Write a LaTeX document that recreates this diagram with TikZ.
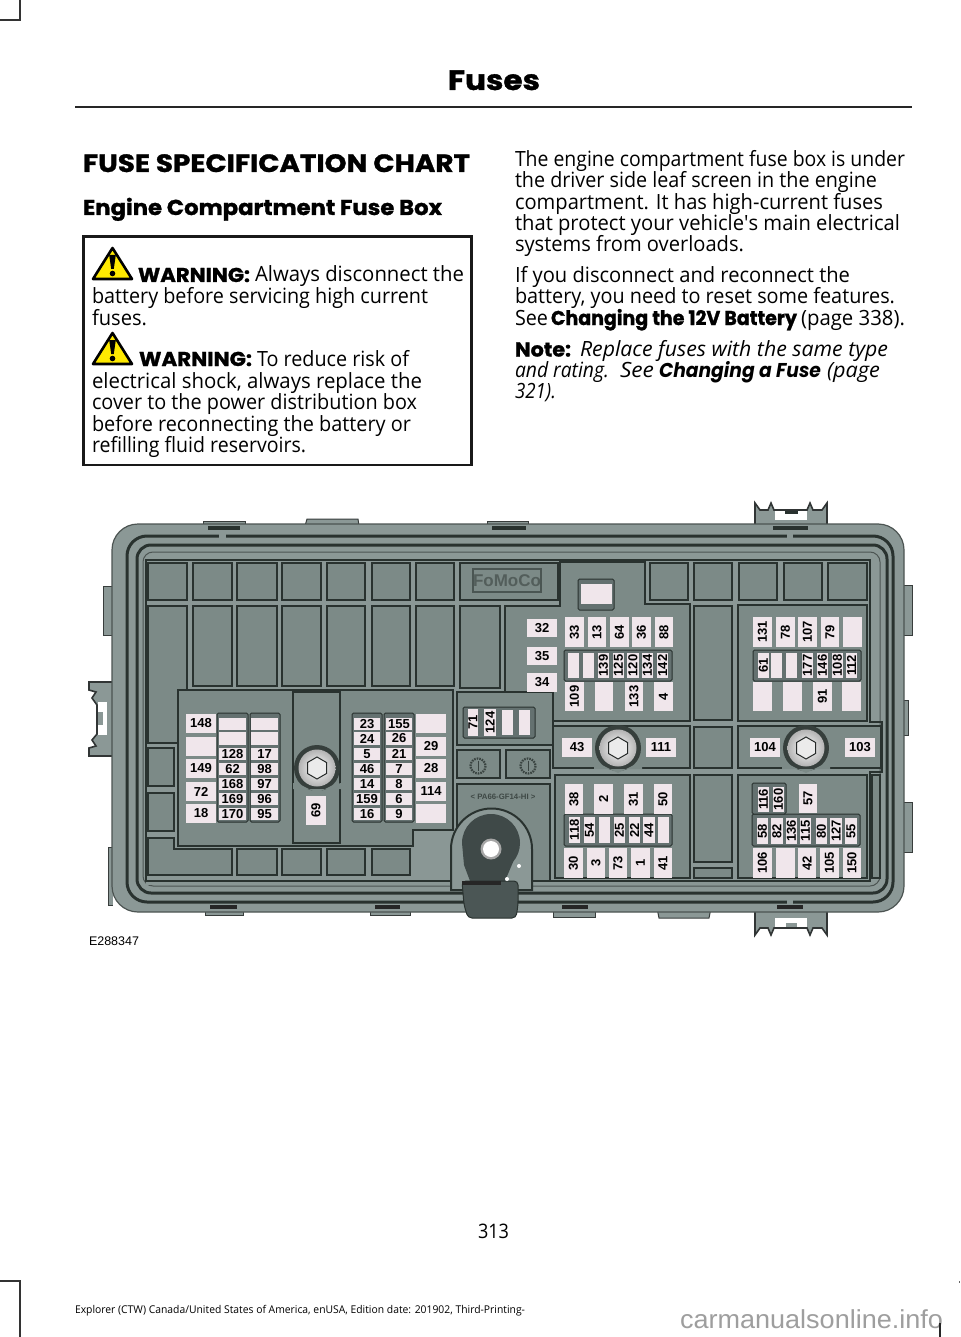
\documentclass[tikz,border=0pt]{standalone}
\usepackage{graphicx}
\usepackage{fontspec}
\setmainfont{Open Sans}
\newfontfamily\hvy{Poppins}[BoldFeatures={FakeBold=1.2}]
\newfontfamily\arl{Liberation Sans}
\definecolor{body}{HTML}{8B9896}
\definecolor{inner}{HTML}{8A9795}
\definecolor{cellc}{HTML}{7C8A87}
\definecolor{darkl}{HTML}{29322F}
\definecolor{platec}{HTML}{647170}
\definecolor{fusec}{HTML}{F0E6EB}
\definecolor{mount}{HTML}{3F4948}
\tikzset{
 fuse/.style={fill=fusec,inner sep=0pt,outer sep=0pt,font=\arl\bfseries\fontsize{13}{13}\selectfont,text=black},
 cellbox/.style={fill=cellc,draw=darkl,line width=1.6pt},
 framel/.style={draw=darkl,line width=3pt,rounded corners=20pt},
 tabbox/.style={fill=body,draw=black!60!body,line width=1pt},
 plate/.style={fill=platec,draw=darkl,line width=1pt,rounded corners=1.5pt},
 para/.style={inner sep=0pt,outer sep=0pt,anchor=base west},
 washer/.style={inner color=white,outer color=black!30!white},
 hexl/.style={draw=black!70!cellc,line width=1pt,fill=white!92!black},
}
\newsavebox\fitbox
\newcounter{nodeid}
% x1 x2 baseline font text : one printed line fitted to its measured width
\newcommand\fitline[5]{%
 \stepcounter{nodeid}%
 \node[para,name=t\thenodeid] at (#1,#3) {\sbox\fitbox{#4#5}\pgfmathsetmacro\fitw{\wd\fitbox}\pgfmathsetmacro\fitr{(#2-#1)/\fitw}\scalebox{\fitr}[1]{\usebox\fitbox}};}
% horizontal and vertical fuses: x1 y1 x2 y2 label
\newcommand\fh[5]{\stepcounter{nodeid}\node[fuse,name=f\thenodeid,minimum width={(#3-#1)*1pt},minimum height={(#4-#2)*1pt}] at ({(#1+#3)/2},{(#2+#4)/2}) {#5};}
\newcommand\fv[5]{\stepcounter{nodeid}\node[fuse,rotate=90,name=f\thenodeid,minimum width={(#4-#2)*1pt},minimum height={(#3-#1)*1pt}] at ({(#1+#3)/2},{(#2+#4)/2}) {#5};}
\newcommand\cl[4]{\draw[cellbox] (#1,#2) rectangle (#3,#4);}
\newcommand\plt[4]{\draw[plate] (#1,#2) rectangle (#3,#4);}
\newcommand\bolt[2]{%
 \fill[darkl!85!cellc] (#1,#2) circle (23);
 \fill[cellc] (#1-24,#2+15) -- (#1-14,#2+18) -- (#1,#2+25) -- (#1+14,#2+18) -- (#1+24,#2+15) -- (#1+24,#2+21) -- (#1-24,#2+21) -- cycle;
 \shade[washer] (#1,#2) circle (18.5);
 \draw[hexl] (#1+9.5,#2-5.5) -- (#1+9.5,#2+5.5) -- (#1,#2+11) -- (#1-9.5,#2+5.5) -- (#1-9.5,#2-5.5) -- (#1,#2-11) -- cycle;}
\newcommand\warn[1]{%
 \draw[fill=yellow!92!orange,draw=black,line width=2.6pt,line join=round] (112.5,#1+2) -- (132,#1+33) -- (93,#1+33) -- cycle;
 \fill[black] (109.2,#1+9) -- (115.8,#1+9) -- (113.8,#1+23) -- (111.2,#1+23) -- cycle;
 \fill[black] (112.5,#1+27.5) circle (2.8);}
\newcommand\rings[2]{%
 \draw[darkl!80!cellc,line width=2.2pt,dash pattern=on 1.6pt off 1pt] (#1,#2) circle (7.5);
 \draw[darkl!80!cellc,line width=.8pt] (#1,#2-5) -- (#1,#2+5);}
\begin{document}
\begin{tikzpicture}[x=1pt,y=-1pt]
\useasboundingbox (0,0) rectangle (960,1337);
\fill[white] (0,0) rectangle (960,1337);
% crop marks
\draw[black!80,line width=1.3pt] (0,20) -- (20,20) -- (20,0);
\draw[black!80,line width=1.3pt] (0,1281) -- (20,1281) -- (20,1337);
% header
\fitline{448}{540}{90}{\hvy\bfseries\fontsize{28}{28}\selectfont}{Fuses}
\draw[black!85,line width=1.6pt] (75,107) -- (912,107);
\fitline{83}{470}{172}{\hvy\bfseries\fontsize{25}{25}\selectfont}{FUSE SPECIFICATION CHART}
\fitline{83}{442}{215}{\hvy\bfseries\fontsize{21.5}{21.5}\selectfont}{Engine Compartment Fuse Box}
% warning box
\draw[black!90,line width=2.6pt] (83.5,236.5) rectangle (471.5,465);
\newcommand\bd{\fontsize{21}{21}\selectfont}
\newcommand\bdb{\hvy\bfseries\fontsize{20}{20}\selectfont}
\newcommand\bdi{\itshape\fontsize{21}{21}\selectfont}
\warn{246}
\fitline{138}{250}{282}{\bdb}{WARNING:}
\fitline{255}{464}{282}{\bd}{Always disconnect the}
\fitline{92}{428}{303}{\bd}{battery before servicing high current}
\fitline{92}{147}{325}{\bd}{fuses.}
\warn{331}
\fitline{139}{252}{366}{\bdb}{WARNING:}
\fitline{257}{409}{366}{\bd}{To reduce risk of}
\fitline{92}{422}{388}{\bd}{electrical shock, always replace the}
\fitline{92}{417}{409}{\bd}{cover to the power distribution box}
\fitline{92}{411}{431}{\bd}{before reconnecting the battery or}
\fitline{92}{306}{452}{\bd}{refilling fluid reservoirs.}
% right column
\fitline{515}{905}{167}{\bd}{The engine compartment fuse box is under}
\fitline{515}{877}{188}{\bd}{the driver side leaf screen in the engine}
\fitline{515}{883}{209.5}{\bd}{compartment. It has high-current fuses}
\fitline{515}{900}{231}{\bd}{that protect your vehicle\textquotesingle s main electrical}
\fitline{515}{744}{252}{\bd}{systems from overloads.}
\fitline{515}{850}{283}{\bd}{If you disconnect and reconnect the}
\fitline{515}{895}{304}{\bd}{battery, you need to reset some features.}
\fitline{515}{548}{325}{\bd}{See}
\fitline{551}{797}{325}{\bdb}{Changing the 12V Battery}
\fitline{801}{905}{325}{\bd}{(page 338).}
\fitline{515}{571}{356.5}{\bdb}{Note:}
\fitline{580}{888}{356.5}{\bdi}{Replace fuses with the same type}
\fitline{515}{609}{377.5}{\bdi}{and rating.}
\fitline{620}{654}{377.5}{\bdi}{See}
\fitline{659}{821}{377.5}{\hvy\bfseries\itshape\fontsize{20}{20}\selectfont}{Changing a Fuse}
\fitline{827}{880}{377.5}{\bdi}{(page}
\fitline{515}{556}{398.5}{\bdi}{321).}
% ---- fuse box: tabs and clips
\draw[tabbox] (203,531) -- (203,521) -- (245,521) -- (245,531);
\draw[tabbox] (305,526) -- (307,519) -- (358,519) -- (359,526);
\draw[tabbox] (487,531) -- (487,521) -- (528,521) -- (528,531);
\draw[tabbox] (205,905) -- (205,915) -- (243,915) -- (243,905);
\draw[tabbox] (370,905) -- (370,915) -- (410,915) -- (410,905);
\draw[tabbox] (553,905) -- (553,917) -- (595,917) -- (595,905);
\draw[tabbox] (657,908) -- (659,918) -- (709,918) -- (711,908);
\draw[tabbox] (112,586) -- (103,586) -- (103,635) -- (112,635);
\draw[tabbox] (113,847) -- (108,847) -- (108,905) -- (113,905);
\draw[tabbox] (903,585) -- (912,585) -- (912,635) -- (903,635);
\draw[tabbox] (903,802) -- (912,802) -- (912,852) -- (903,852);
\draw[tabbox] (900,700) -- (908,700) -- (908,735) -- (900,735);
% top clip
\draw[fill=body,draw=black!65!body,line width=1.6pt] (755,526) -- (755,503) -- (760,510) -- (768,510) -- (771,503) -- (774,510) -- (807,510) -- (810,503) -- (813,510) -- (822,510) -- (827,503) -- (827,526) -- cycle;
\fill[white] (775,511) rectangle (807,520);
\fill[darkl] (785,511) rectangle (798,514);
% bottom clip
\draw[fill=body,draw=black!65!body,line width=1.6pt] (755,910) -- (755,935) -- (760,928) -- (768,928) -- (771,935) -- (774,928) -- (807,928) -- (810,935) -- (813,928) -- (822,928) -- (827,935) -- (827,910) -- cycle;
\fill[white] (775,918) rectangle (807,927);
\fill[body] (786,923) rectangle (797,927);
% left clip
\draw[fill=body,draw=black!65!body,line width=1.6pt] (114,682) -- (89,682) -- (89,690) -- (96,692) -- (92,698) -- (97,705) -- (97,734) -- (92,740) -- (96,746) -- (89,748) -- (89,756) -- (114,756) -- cycle;
\fill[white] (98,702) rectangle (107,735);
\fill[body] (98,712) rectangle (103,725);
\draw[fill=darkl!80!cellc,draw=darkl] (112,699) rectangle (118,737);
% body and frames
\draw[fill=body,draw=black!45!body,line width=1.2pt,rounded corners=26pt] (112,524) rectangle (904,912);
\draw[framel] (127,536) rectangle (893,902);
\draw[framel,rounded corners=14pt] (137,545) rectangle (887,893);
\draw[draw=black!45!body,line width=1pt,rounded corners=10pt] (143,552) rectangle (880,886);
% slots on the rim
\fill[body] (219,533) rectangle (226,539);
\fill[body] (787,533) rectangle (793,539);
\fill[body] (787,899) rectangle (793,905);
\foreach \a/\b in {208/240,492/526,773/808} {\fill[darkl] (\a,526) rectangle (\b,530);}
\foreach \a/\b in {210/237,375/400,562/588,777/803} {\fill[black!85] (\a,905) rectangle (\b,909);}
\fill[inner] (146,560) rectangle (870,885);
\draw[darkl,line width=2pt] (146,560) -- (870,560) -- (870,722) -- (882,722) -- (882,772) -- (870,772) -- (870,881) -- (146,881) -- cycle;
% cells, top row and second row
\foreach \a/\b in {148/187,193/232,237/277,282/321,327/365,372/410,416/454,460/558,650/688,694/732,739/777,784/822,828/867} {\cl{\a}{563}{\b}{600}}
\foreach \a/\b in {193/232,237/277,282/321,327/365,372/410,416/454} {\cl{\a}{606}{\b}{686}}
\cl{460}{606}{500}{688}
\cl{148}{606}{187}{743}
\cl{148}{748}{174}{786}
\cl{148}{793}{174}{831}
\draw[cellbox] (148,838) -- (174,838) -- (174,849) -- (232,849) -- (232,875) -- (148,875) -- cycle;
\foreach \a/\b in {237/277,282/321,327/365,372/410} {\cl{\a}{849}{\b}{875}}
% FoMoCo logo
\draw[darkl!60!cellc,line width=1.2pt] (473,569) rectangle (541,592);
\node[inner sep=0pt,text=darkl!50!cellc,font=\arl\bfseries\fontsize{17}{17}\selectfont] (logo) at (507,581) {FoMoCo};
% panels
\draw[cellbox] (178,690) -- (453,690) -- (453,830) -- (413,830) -- (413,846) -- (178,846) -- cycle;
\cl{293}{692}{340}{843}
\cl{457}{692}{553}{745}
\cl{457}{750}{500}{778}
\cl{506}{750}{550}{778}
\cl{457}{784}{550}{881}
\draw[cellbox] (505,606) -- (560,606) -- (560,562) -- (645,562) -- (645,604) -- (690,604) -- (690,721) -- (553,721) -- (553,692) -- (505,692) -- cycle;
\cl{553}{726}{690}{768}
\cl{555}{775}{690}{878}
\cl{694}{606}{732}{720}
\cl{694}{727}{732}{768}
\cl{694}{775}{732}{862}
\cl{694}{868}{732}{878}
\cl{738}{605}{867}{721}
\cl{738}{726}{881}{768}
\cl{738}{775}{867}{878}
\cl{872}{775}{880}{878}
% symbols and moulded text
\rings{478}{766}
\rings{528}{766}
\node[inner sep=0pt,text=darkl!75!cellc,font=\arl\bfseries\fontsize{7.8}{7.8}\selectfont] (mat) at (503,797) {< PA66-GF14-HI >};
% black mount
\draw[fill=body,draw=darkl,line width=2pt] (451,890) -- (451,849) arc[start angle=180,end angle=360,radius=40.5] -- (532,890) -- cycle;
\fill[mount] (462,843) arc[start angle=180,end angle=400,radius=29] -- (505,881) -- (470,881) -- (464,865) -- cycle;
\draw[fill=mount!80!cellc,draw=darkl,line width=1pt,rounded corners=4pt] (462,881) -- (518,881) -- (518,905) -- (516,918) -- (468,918) -- (464,905) -- cycle;
\fill[black!85] (462,881) rectangle (501,885);
\fill[black!35!white] (491,849) circle (10.5);
\fill[white] (491,849) circle (8);
\fill[white] (519,866) circle (2);
\fill[white] (507,879) circle (2);
% bolts
\bolt{317}{768}
\bolt{618}{748}
\bolt{806}{748}
% fuse plates
\plt{217}{713}{248}{822}
\plt{250}{713}{280}{822}
\plt{352}{713}{382}{822}
\plt{384}{713}{414}{822}
\plt{463}{707}{535}{738}
\plt{564}{650}{672}{681}
\plt{753}{650}{861}{681}
\plt{564}{814}{672}{846}
\plt{752}{814}{860}{846}
\plt{752}{783}{786}{814}
\plt{578}{579}{614}{610}
% group 1
\fh{186}{714}{216}{733}{148}
\fh{186}{737}{216}{756}{}
\fh{186}{759}{216}{778}{149}
\fh{186}{782}{216}{801}{72}
\fh{186}{804}{216}{823}{18}
\fh{219}{718}{246}{730}{}
\fh{219}{732}{246}{745}{}
\fh{219}{748}{246}{760}{128}
\fh{219}{763}{246}{775}{62}
\fh{219}{778}{246}{790}{168}
\fh{219}{793}{246}{805}{169}
\fh{219}{808}{246}{820}{170}
\fh{251}{718}{278}{730}{}
\fh{251}{732}{278}{745}{}
\fh{251}{748}{278}{760}{17}
\fh{251}{763}{278}{775}{98}
\fh{251}{778}{278}{790}{97}
\fh{251}{793}{278}{805}{96}
\fh{251}{808}{278}{820}{95}
\fv{306}{796}{326}{825}{69}
% group 2
\fh{354}{718}{380}{730}{23}
\fh{354}{732}{380}{745}{24}
\fh{354}{748}{380}{760}{5}
\fh{354}{763}{380}{775}{46}
\fh{354}{778}{380}{790}{14}
\fh{354}{793}{380}{805}{159}
\fh{354}{808}{380}{820}{16}
\fh{386}{718}{412}{730}{155}
\fh{386}{732}{412}{745}{26}
\fh{386}{748}{412}{760}{21}
\fh{386}{763}{412}{775}{7}
\fh{386}{778}{412}{790}{8}
\fh{386}{793}{412}{805}{6}
\fh{386}{808}{412}{820}{9}
\fh{416}{714}{446}{733}{}
\fh{416}{737}{446}{756}{29}
\fh{416}{759}{446}{778}{28}
\fh{416}{782}{446}{801}{114}
\fh{416}{804}{446}{823}{}
% small plate
\fv{468}{709}{478}{736}{71}
\fv{484}{709}{496}{736}{124}
\fv{502}{710}{513}{735}{}
\fv{519}{710}{530}{735}{}
% region A
\fh{581}{584}{612}{604}{}
\fh{527}{619}{557}{637}{32}
\fh{527}{647}{557}{665}{35}
\fh{527}{673}{557}{692}{34}
\fv{565}{617}{584}{647}{33}
\fv{588}{617}{606}{647}{13}
\fv{610}{617}{629}{647}{64}
\fv{632}{617}{651}{647}{36}
\fv{655}{617}{673}{647}{88}
\fv{568}{653}{579}{678}{}
\fv{583}{653}{594}{678}{}
\fv{598}{653}{609}{678}{139}
\fv{613}{653}{624}{678}{125}
\fv{627}{653}{639}{678}{120}
\fv{642}{653}{653}{678}{134}
\fv{657}{653}{668}{678}{142}
\fv{565}{682}{584}{711}{109}
\fv{595}{682}{613}{711}{}
\fv{625}{682}{643}{711}{133}
\fv{654}{682}{673}{711}{4}
% bolts row
\fh{562}{738}{592}{757}{43}
\fh{646}{738}{676}{757}{111}
\fh{750}{738}{780}{757}{104}
\fh{845}{738}{875}{757}{103}
% lower left
\fv{565}{784}{583}{814}{38}
\fv{594}{784}{613}{814}{2}
\fv{624}{784}{643}{814}{31}
\fv{654}{784}{672}{814}{50}
\fv{569}{817}{580}{843}{118}
\fv{584}{817}{595}{843}{54}
\fv{599}{817}{610}{843}{}
\fv{614}{817}{625}{843}{25}
\fv{629}{817}{640}{843}{22}
\fv{643}{817}{655}{843}{44}
\fv{658}{817}{669}{843}{}
\fv{564}{848}{583}{878}{30}
\fv{587}{848}{605}{878}{3}
\fv{609}{848}{627}{878}{73}
\fv{631}{848}{650}{878}{1}
\fv{654}{848}{672}{878}{41}
% upper right
\fv{753}{617}{772}{647}{131}
\fv{776}{617}{795}{647}{78}
\fv{798}{617}{817}{647}{107}
\fv{821}{617}{839}{647}{79}
\fv{843}{617}{862}{647}{}
\fv{758}{653}{769}{678}{61}
\fv{771}{653}{782}{678}{}
\fv{786}{653}{797}{678}{}
\fv{802}{653}{813}{678}{177}
\fv{817}{653}{828}{678}{146}
\fv{832}{653}{843}{678}{108}
\fv{846}{653}{857}{678}{112}
\fv{753}{682}{772}{711}{}
\fv{783}{682}{802}{711}{}
\fv{813}{682}{832}{711}{91}
\fv{842}{682}{861}{711}{}
% lower right
\fv{758}{787}{769}{812}{116}
\fv{773}{787}{784}{812}{160}
\fv{799}{784}{817}{813}{57}
\fv{757}{818}{768}{844}{58}
\fv{771}{818}{783}{844}{82}
\fv{786}{818}{797}{844}{136}
\fv{800}{818}{811}{844}{115}
\fv{816}{818}{827}{844}{80}
\fv{830}{818}{842}{844}{127}
\fv{845}{818}{857}{844}{55}
\fv{753}{848}{772}{878}{106}
\fv{776}{848}{795}{878}{}
\fv{798}{848}{816}{878}{42}
\fv{820}{848}{839}{878}{105}
\fv{843}{848}{861}{878}{150}
% artwork number
\fitline{89}{139}{945}{\arl\fontsize{12.5}{12.5}\selectfont}{E288347}
% footer
\fitline{478}{509}{1238}{\fontsize{20}{20}\selectfont}{313}
\fitline{75}{525}{1313}{\fontsize{10.7}{10.7}\selectfont}{Explorer (CTW) Canada/United States of America, enUSA, Edition date: 201902, Third-Printing-}
\fitline{680}{943}{1328}{\arl\color{black!38}\fontsize{26}{26}\selectfont}{carmanualsonline.info}
\draw[black!85,line width=1.3pt] (940,1323) -- (940,1337);
\fill[black!60] (958.5,1281) rectangle (960,1283);
\end{tikzpicture}
\end{document}
